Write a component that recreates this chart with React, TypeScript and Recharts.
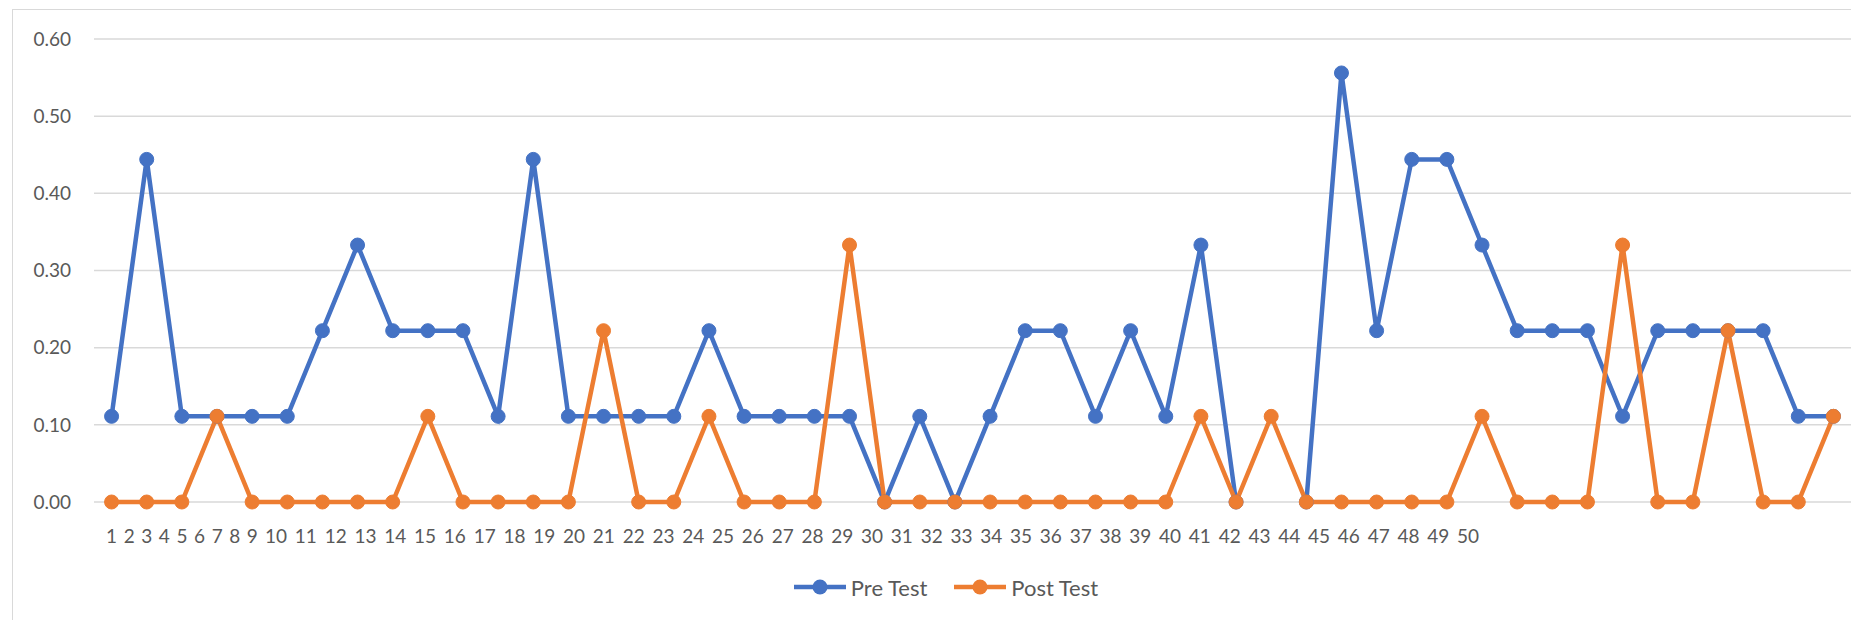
import { CartesianGrid, Legend, Line, LineChart, XAxis, YAxis } from "recharts";

const CATEGORIES = [
  "1", "2", "3", "4", "5", "6", "7", "8", "9", "10",
  "11", "12", "13", "14", "15", "16", "17", "18", "19", "20",
  "21", "22", "23", "24", "25", "26", "27", "28", "29", "30",
  "31", "32", "33", "34", "35", "36", "37", "38", "39", "40",
  "41", "42", "43", "44", "45", "46", "47", "48", "49", "50",
];

const PRE_TEST: (number | null)[] = [
  0.111, 0.444, 0.111, 0.111, 0.111, 0.111, 0.222, 0.333, 0.222, 0.222,
  0.222, 0.111, 0.444, 0.111, 0.111, 0.111, 0.111, 0.222, 0.111, 0.111,
  0.111, 0.111, 0, 0.111, 0, 0.111, 0.222, 0.222, 0.111, 0.222,
  0.111, 0.333, 0, null, 0, 0.556, 0.222, 0.444, 0.444, 0.333,
  0.222, 0.222, 0.222, 0.111, 0.222, 0.222, 0.222, 0.222, 0.111, 0.111,
];

const POST_TEST: number[] = [
  0, 0, 0, 0.111, 0, 0, 0, 0, 0, 0.111,
  0, 0, 0, 0, 0.222, 0, 0, 0.111, 0, 0,
  0, 0.333, 0, 0, 0, 0, 0, 0, 0, 0,
  0, 0.111, 0, 0.111, 0, 0, 0, 0, 0, 0.111,
  0, 0, 0, 0.333, 0, 0, 0.222, 0, 0, 0.111,
];

const Y_TICKS = [0, 0.1, 0.2, 0.3, 0.4, 0.5, 0.6];

const SERIES = [
  { key: "pre", name: "Pre Test", color: "#4472C4" },
  { key: "post", name: "Post Test", color: "#ED7D31" },
];

const data = CATEGORIES.map((label, i) => ({
  label,
  pre: PRE_TEST[i],
  post: POST_TEST[i],
}));

const FONT = "Lato, 'Open Sans', sans-serif";
const TEXT = "#595959";
const GRID = "#D9D9D9";

const WIDTH = 1851;
const HEIGHT = 612;
const MARGIN = { top: 31, right: 8, left: 0, bottom: 13 };
const Y_AXIS_W = 86;
const PLOT_W = WIDTH - MARGIN.left - MARGIN.right - Y_AXIS_W;
const STEP = PLOT_W / CATEGORIES.length;

// Excel squeezed the category labels together at the left, one after another
const DIGIT_W = 12.2;
const LABEL_GAP = 5.4;
const LABEL_OFFSETS: number[] = [];
{
  let left = 0;
  CATEGORIES.forEach((c, i) => {
    const w = c.length * DIGIT_W;
    LABEL_OFFSETS[i] = left + w / 2 - (CATEGORIES[0].length * DIGIT_W) / 2;
    left += w + LABEL_GAP;
  });
}

function XTick(props: any) {
  const { x, y, payload, index } = props;
  const firstX = x - index * STEP;
  return (
    <text
      x={firstX + LABEL_OFFSETS[index]}
      y={y + 34}
      dy="0.355em"
      textAnchor="middle"
      fill={TEXT}
      fontSize={19}
      fontFamily={FONT}
    >
      {payload.value}
    </text>
  );
}

function LegendContent() {
  return (
    <div
      style={{
        display: "flex",
        justifyContent: "center",
        alignItems: "center",
        height: 40,
        paddingLeft: 33,
        gap: 27,
        fontFamily: FONT,
        fontSize: 22,
        color: TEXT,
      }}
    >
      {SERIES.map((s) => (
        <div key={s.key} style={{ display: "flex", alignItems: "center" }}>
          <svg width={52} height={18}>
            <line x1={0} y1={9} x2={52} y2={9} stroke={s.color} strokeWidth={4.5} />
            <circle cx={26} cy={9} r={7.5} fill={s.color} />
          </svg>
          <span style={{ marginLeft: 5 }}>{s.name}</span>
        </div>
      ))}
    </div>
  );
}

export default function App() {
  return (
    <div style={{ position: "relative", width: WIDTH, height: HEIGHT, overflow: "hidden", background: "#fff" }}>
      <div
        style={{
          position: "absolute",
          left: 4,
          top: 1,
          width: 1900,
          height: 700,
          borderLeft: `1px solid ${GRID}`,
          borderTop: `1px solid ${GRID}`,
          pointerEvents: "none",
        }}
      />
      <LineChart width={WIDTH} height={HEIGHT} data={data} margin={MARGIN}>
        <CartesianGrid vertical={false} stroke={GRID} strokeWidth={1.5} />
        <XAxis
          dataKey="label"
          interval={0}
          axisLine={false}
          tickLine={false}
          tickSize={0}
          tickMargin={0}
          height={65}
          padding={{ left: STEP / 2, right: STEP / 2 }}
          tick={XTick}
        />
        <YAxis
          width={Y_AXIS_W}
          domain={[0, 0.6]}
          ticks={Y_TICKS}
          axisLine={false}
          tickLine={false}
          tickSize={0}
          tickMargin={23}
          tickFormatter={(v: number) => v.toFixed(2)}
          tick={{ fill: TEXT, fontSize: 19, fontFamily: FONT }}
        />
        <Legend verticalAlign="bottom" height={40} content={LegendContent} />
        {SERIES.map((s) => (
          <Line
            key={s.key}
            dataKey={s.key}
            name={s.name}
            stroke={s.color}
            strokeWidth={4.5}
            dot={{ r: 7, fill: s.color, stroke: s.color, strokeWidth: 1 }}
            activeDot={false}
            isAnimationActive={false}
          />
        ))}
      </LineChart>
    </div>
  );
}
